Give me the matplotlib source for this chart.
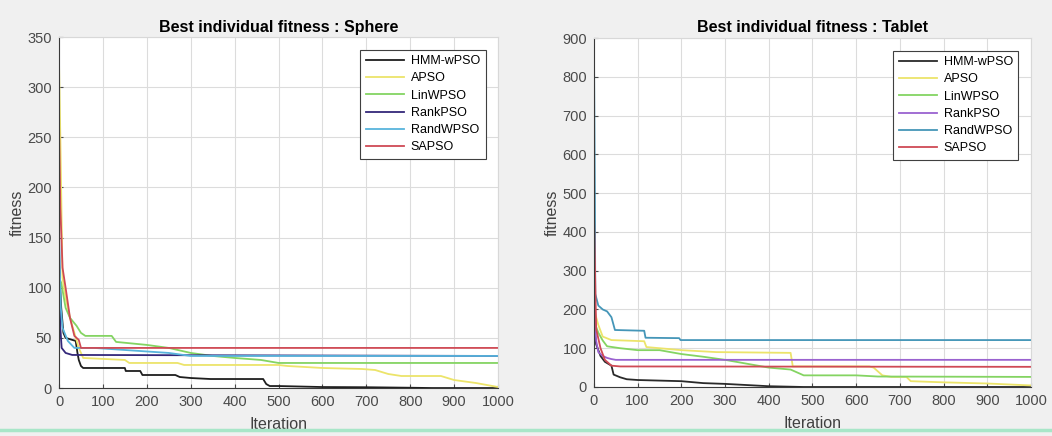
import matplotlib.pyplot as plt
from matplotlib.lines import Line2D

plt.rcParams['font.family'] = ['Liberation Sans', 'DejaVu Sans']

### DATA ###

labels = ["HMM-wPSO", "APSO", "LinWPSO", "RankPSO", "RandWPSO", "SAPSO"]

# Sphere: (iteration, best fitness) points of each curve
sphere_hmm_it = [0, 5, 10, 15, 38, 42, 45, 50, 55, 150, 152, 185, 190, 265, 275, 300, 345, 465, 472, 480, 500, 600, 700, 800, 850, 1000]
sphere_hmm_fit = [125, 80, 55, 50, 47, 35, 28, 22, 20, 20, 17, 17, 13, 13, 11, 10, 9, 9, 4, 2, 2, 1, 0.8, 0.3, 0, 0]

sphere_apso_it = [0, 3, 8, 15, 25, 35, 45, 55, 150, 160, 270, 285, 500, 520, 600, 690, 720, 750, 780, 870, 900, 950, 1000]
sphere_apso_fit = [325, 250, 110, 90, 70, 55, 40, 30, 28, 25, 25, 23, 23, 22, 20, 19, 18, 14, 12, 12, 8, 5, 1]

sphere_lin_it = [0, 5, 15, 25, 40, 50, 60, 120, 130, 200, 250, 300, 350, 400, 460, 500, 1000]
sphere_lin_fit = [110, 105, 80, 70, 62, 55, 52, 52, 46, 43, 40, 35, 32, 30, 28, 25, 25]

sphere_rank_it = [0, 3, 6, 15, 30, 1000]
sphere_rank_fit = [150, 60, 40, 35, 33, 32]

sphere_rand_it = [0, 4, 8, 20, 35, 80, 250, 300, 1000]
sphere_rand_fit = [155, 80, 60, 47, 40, 40, 35, 32, 32]

sphere_sa_it = [0, 3, 8, 15, 25, 35, 45, 50, 1000]
sphere_sa_fit = [265, 180, 120, 100, 70, 52, 48, 40, 40]

# Tablet
tablet_hmm_it = [0, 5, 15, 25, 40, 45, 60, 75, 100, 200, 250, 300, 350, 400, 480, 1000]
tablet_hmm_fit = [150, 110, 80, 65, 55, 32, 25, 20, 18, 15, 10, 8, 5, 2, 0, 0]

tablet_apso_it = [0, 5, 10, 20, 40, 115, 120, 150, 200, 280, 450, 455, 630, 640, 660, 680, 715, 725, 800, 900, 1000]
tablet_apso_fit = [200, 180, 160, 130, 121, 118, 103, 100, 95, 90, 88, 53, 53, 50, 30, 26, 26, 15, 12, 9, 4]

tablet_lin_it = [0, 10, 20, 30, 60, 100, 150, 200, 250, 300, 350, 400, 450, 480, 600, 650, 1000]
tablet_lin_fit = [170, 140, 120, 105, 100, 95, 95, 85, 78, 70, 60, 50, 45, 30, 30, 27, 26]

tablet_rank_it = [0, 5, 10, 20, 30, 40, 50, 1000]
tablet_rank_fit = [250, 120, 90, 80, 75, 72, 70, 70]

tablet_rand_it = [0, 2, 3, 10, 20, 30, 40, 48, 115, 118, 195, 198, 1000]
tablet_rand_fit = [880, 500, 240, 210, 200, 195, 180, 147, 145, 127, 126, 121, 121]

tablet_sa_it = [0, 5, 15, 25, 35, 40, 60, 1000]
tablet_sa_fit = [450, 150, 100, 70, 60, 55, 53, 52]

sphere_series = [
    (sphere_hmm_it, sphere_hmm_fit), (sphere_apso_it, sphere_apso_fit),
    (sphere_lin_it, sphere_lin_fit), (sphere_rank_it, sphere_rank_fit),
    (sphere_rand_it, sphere_rand_fit), (sphere_sa_it, sphere_sa_fit),
]
tablet_series = [
    (tablet_hmm_it, tablet_hmm_fit), (tablet_apso_it, tablet_apso_fit),
    (tablet_lin_it, tablet_lin_fit), (tablet_rank_it, tablet_rank_fit),
    (tablet_rand_it, tablet_rand_fit), (tablet_sa_it, tablet_sa_fit),
]

sphere_colors = ["#1e1e1e", "#ece46a", "#84d462", "#34287a", "#58b4dc", "#cf4a55"]
tablet_colors = ["#2a2a2a", "#ece46a", "#84d462", "#9a62d0", "#4596b8", "#cf4a55"]


### PLOTTING ###

def draw_panel(ax, series, colors, title, ymax, ystep):
    """ Draw the best-fitness curves of one benchmark """
    ax.set_facecolor("white")
    for (it, fit), color, label in zip(series, colors, labels):
        ax.plot(it, fit, color=color, lw=1.3, label=label)
    ax.set_xlim(0, 1000)
    ax.set_ylim(0, ymax)
    ax.set_xticks(range(0, 1001, 100))
    ax.set_yticks(range(0, ymax + 1, ystep))
    ax.grid(True, color="#dcdcdc", lw=0.8)
    ax.set_axisbelow(True)
    ax.tick_params(direction="in", length=3, labelsize=10.5, colors="#4a4a4a", pad=5)
    for side in ["left", "bottom"]:
        ax.spines[side].set_color("#3a3a3a")
    for side in ["top", "right"]:
        ax.spines[side].set_color("#d8d8d8")
    ax.set_title(title, fontsize=11.5, fontweight="bold", pad=4)
    ax.set_xlabel("Iteration", fontsize=11.5, color="#404040", labelpad=6)
    ax.set_ylabel("fitness", fontsize=11.5, color="#404040", labelpad=2)
    leg = ax.legend(loc="upper right", fontsize=9, handlelength=3.1, handletextpad=0.5,
                    labelspacing=0.42, borderaxespad=1.0, borderpad=0.45, fancybox=False,
                    framealpha=1, edgecolor="#404040")
    leg.get_frame().set_linewidth(0.8)


fig = plt.figure(figsize=(10.52, 4.36), dpi=100, facecolor="#f0f0f0")
ax1 = fig.add_axes([0.0561, 0.110, 0.4173, 0.805])
ax2 = fig.add_axes([0.5646, 0.1124, 0.4154, 0.8004])

draw_panel(ax1, sphere_series, sphere_colors, "Best individual fitness : Sphere", 350, 50)
draw_panel(ax2, tablet_series, tablet_colors, "Best individual fitness : Tablet", 900, 100)

# thin strip along the bottom edge
fig.add_artist(Line2D([0, 1], [0.013, 0.013], color="#a8e6c8", lw=2.5))

fig.savefig("out.png", dpi=100, facecolor=fig.get_facecolor())
